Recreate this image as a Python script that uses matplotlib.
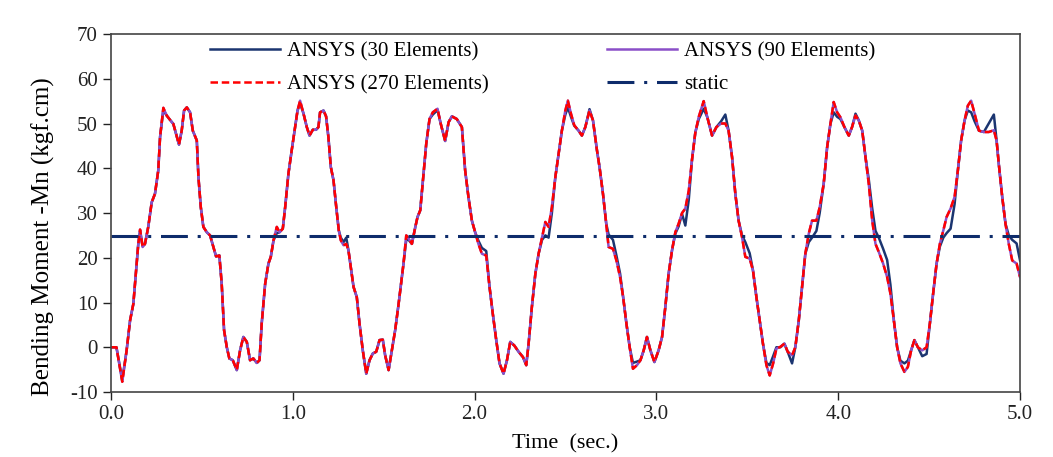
import matplotlib.pyplot as plt

# time (sec.), shared by all three ANSYS curves
time_s = [0.000, 0.030, 0.062, 0.086, 0.105, 0.123, 0.138, 0.150, 0.160, 0.174,
          0.187, 0.205, 0.224, 0.242, 0.260, 0.270, 0.288, 0.306, 0.325, 0.343,
          0.358, 0.374, 0.389, 0.402, 0.417, 0.435, 0.450, 0.472, 0.481, 0.494,
          0.508, 0.527, 0.545, 0.563, 0.578, 0.596, 0.609, 0.622, 0.637, 0.651,
          0.670, 0.692, 0.710, 0.728, 0.747, 0.765, 0.783, 0.802, 0.817, 0.829,
          0.848, 0.866, 0.879, 0.894, 0.912, 0.927, 0.945, 0.958, 0.976, 0.994,
          1.013, 1.026, 1.040, 1.059, 1.077, 1.092, 1.110, 1.128, 1.141, 1.150,
          1.169, 1.183, 1.196, 1.209, 1.224, 1.239, 1.253, 1.264, 1.279, 1.294,
          1.306, 1.319, 1.334, 1.352, 1.367, 1.385, 1.404, 1.422, 1.440, 1.459,
          1.477, 1.495, 1.508, 1.527, 1.545, 1.563, 1.582, 1.609, 1.624, 1.637,
          1.655, 1.674, 1.686, 1.701, 1.716, 1.734, 1.752, 1.770, 1.796, 1.814,
          1.838, 1.857, 1.875, 1.902, 1.930, 1.948, 1.966, 1.985, 2.003, 2.021,
          2.040, 2.064, 2.082, 2.100, 2.119, 2.137, 2.159, 2.178, 2.196, 2.218,
          2.242, 2.266, 2.284, 2.297, 2.315, 2.334, 2.352, 2.371, 2.389, 2.407,
          2.425, 2.444, 2.462, 2.480, 2.499, 2.513, 2.530, 2.548, 2.572, 2.590,
          2.609, 2.632, 2.651, 2.673, 2.687, 2.706, 2.724, 2.737, 2.761, 2.780,
          2.800, 2.817, 2.835, 2.853, 2.871, 2.893, 2.912, 2.930, 2.948, 2.967,
          2.989, 3.012, 3.031, 3.049, 3.067, 3.086, 3.104, 3.122, 3.141, 3.159,
          3.178, 3.196, 3.214, 3.233, 3.260, 3.280, 3.306, 3.330, 3.356, 3.379,
          3.397, 3.416, 3.434, 3.452, 3.471, 3.489, 3.513, 3.531, 3.550, 3.568,
          3.586, 3.605, 3.623, 3.642, 3.660, 3.682, 3.704, 3.722, 3.746, 3.764,
          3.783, 3.801, 3.819, 3.838, 3.856, 3.880, 3.898, 3.920, 3.939, 3.957,
          3.975, 3.994, 4.012, 4.034, 4.058, 4.076, 4.095, 4.113, 4.132, 4.150,
          4.168, 4.187, 4.205, 4.223, 4.247, 4.269, 4.287, 4.306, 4.324, 4.342,
          4.364, 4.383, 4.401, 4.419, 4.438, 4.462, 4.486, 4.504, 4.522, 4.541,
          4.559, 4.578, 4.596, 4.618, 4.640, 4.658, 4.676, 4.695, 4.713, 4.731,
          4.750, 4.774, 4.801, 4.828, 4.856, 4.871, 4.883, 4.902, 4.920, 4.938,
          4.957, 4.981, 5.000]

# bending moment (kgf.cm), 270 elements (red dashed)
m270 = [0.0, 0.0, -7.7, -0.7, 6.0, 9.7, 17.2, 23.0, 26.3, 22.4,
        23.1, 26.9, 32.4, 34.3, 39.5, 47.0, 53.5, 51.8, 50.8, 49.9,
        47.7, 45.3, 48.4, 52.9, 53.6, 52.5, 48.4, 46.2, 38.0, 31.3,
        26.9, 25.7, 25.0, 22.4, 20.3, 20.5, 14.2, 3.8, 0.0, -2.5,
        -2.9, -5.1, -0.7, 2.3, 1.2, -2.9, -2.5, -3.5, -2.9, 5.3,
        14.2, 18.7, 20.2, 23.9, 26.9, 25.7, 26.5, 31.3, 38.8, 44.0,
        49.2, 52.9, 55.1, 52.2, 49.2, 47.3, 48.6, 48.6, 49.2, 52.5,
        52.9, 51.6, 46.9, 40.3, 37.3, 31.3, 26.1, 23.9, 22.8, 23.1,
        21.7, 17.9, 13.5, 11.2, 5.3, -0.7, -5.9, -2.9, -1.4, -1.0,
        1.6, 1.7, -1.8, -5.1, -0.7, 3.8, 9.7, 18.7, 25.0, 24.3,
        23.1, 26.9, 29.1, 30.6, 37.3, 45.5, 51.0, 52.5, 53.3, 49.9,
        46.1, 50.3, 51.6, 51.0, 49.2, 39.5, 33.6, 28.3, 25.7, 23.1,
        20.9, 20.5, 13.5, 7.5, 1.6, -3.6, -5.9, -2.9, 1.2, 0.4,
        -1.0, -2.2, -4.0, 0.8, 9.0, 16.4, 20.9, 24.6, 28.0, 26.9,
        31.3, 38.0, 43.2, 48.4, 52.9, 55.1, 52.2, 49.6, 48.4, 47.3,
        49.2, 52.9, 50.7, 44.0, 40.3, 34.3, 27.6, 22.4, 22.0, 19.4,
        15.7, 11.2, 5.3, 0.0, -4.8, -4.0, -2.9, -0.7, 2.3, -0.7,
        -3.3, -0.7, 2.3, 9.0, 16.4, 21.7, 25.7, 27.6, 30.0, 31.0,
        35.0, 42.0, 48.0, 51.5, 55.0, 51.4, 47.3, 49.2, 50.0, 50.0,
        48.4, 42.5, 34.3, 28.3, 24.6, 20.2, 19.8, 17.2, 11.2, 6.0,
        0.8, -4.0, -6.3, -3.6, -0.3, 0.1, 0.8, -1.0, -1.8, 0.0,
        6.0, 13.5, 20.9, 25.4, 28.3, 28.3, 31.3, 36.5, 44.7, 49.9,
        54.8, 52.5, 51.4, 49.2, 47.3, 49.2, 51.8, 50.7, 48.4, 42.5,
        36.5, 28.3, 23.1, 21.3, 18.7, 15.7, 12.0, 6.0, 0.0, -3.6,
        -5.5, -4.4, -0.7, 1.6, 0.0, -0.7, 0.0, 5.3, 12.0, 18.7,
        23.1, 26.1, 29.1, 31.0, 33.6, 39.5, 46.2, 50.7, 54.0, 55.1,
        52.2, 48.4, 48.1, 48.1, 48.5, 46.2, 41.0, 33.6, 27.6, 23.1,
        19.4, 18.7, 15.7]

# 90 elements (purple) lies under the 270-element line everywhere
m90 = list(m270)

# 30 elements (navy solid)
m30 = [0.0, 0.0, -7.3, -0.7, 6.0, 9.7, 17.2, 23.0, 26.0, 22.6,
       23.1, 26.9, 32.4, 34.3, 39.5, 47.0, 53.0, 51.8, 50.8, 49.9,
       47.7, 45.3, 48.4, 52.9, 53.6, 52.5, 48.4, 46.2, 38.0, 31.3,
       26.9, 25.7, 25.0, 22.4, 20.3, 20.5, 14.2, 3.8, 0.0, -2.5,
       -2.9, -5.1, -0.7, 2.3, 1.2, -2.9, -2.5, -3.5, -2.9, 5.3,
       14.2, 18.7, 20.2, 23.9, 25.5, 25.7, 26.5, 31.3, 38.8, 44.0,
       49.2, 52.9, 54.5, 52.2, 49.2, 47.3, 48.6, 48.6, 49.2, 52.5,
       52.9, 51.6, 46.9, 40.3, 37.3, 31.3, 26.1, 24.5, 23.5, 24.5,
       21.7, 17.9, 13.5, 11.2, 5.3, -0.7, -5.9, -2.9, -1.4, -1.0,
       1.6, 1.7, -1.8, -5.1, -0.7, 3.8, 9.7, 18.7, 24.0, 24.0,
       23.1, 26.9, 29.1, 30.6, 37.3, 45.5, 51.0, 52.0, 53.0, 49.9,
       46.1, 50.3, 51.6, 51.0, 49.2, 39.5, 33.6, 28.3, 25.7, 23.8,
       22.2, 21.5, 13.5, 7.5, 1.6, -3.6, -5.9, -2.9, 1.2, 0.4,
       -1.0, -2.2, -4.0, 0.8, 9.0, 16.4, 20.9, 24.0, 25.0, 24.5,
       30.0, 38.0, 43.2, 48.4, 52.0, 53.6, 51.5, 49.5, 48.4, 47.3,
       49.2, 53.2, 50.7, 44.0, 40.3, 34.3, 27.6, 25.2, 24.0, 20.5,
       16.5, 11.2, 5.3, 0.0, -3.5, -3.2, -2.9, -0.7, 2.3, -0.7,
       -3.3, -0.7, 2.3, 9.0, 16.4, 21.7, 25.4, 27.0, 29.8, 27.2,
       33.0, 42.0, 48.0, 51.0, 53.3, 51.4, 47.3, 49.2, 50.5, 52.0,
       48.4, 42.5, 34.3, 28.3, 25.0, 23.5, 21.0, 17.2, 11.2, 6.0,
       0.8, -3.5, -4.0, -2.0, 0.0, 0.0, 0.8, -1.0, -3.6, 0.0,
       6.0, 13.5, 20.9, 23.5, 24.5, 26.0, 30.0, 36.5, 44.7, 49.9,
       52.5, 51.5, 51.0, 49.2, 47.3, 49.2, 52.2, 50.7, 48.4, 42.5,
       37.5, 31.0, 26.0, 24.5, 22.0, 19.5, 14.0, 6.0, 0.0, -3.0,
       -3.6, -3.0, -0.7, 1.6, 0.0, -2.0, -1.5, 5.3, 12.0, 18.7,
       22.5, 24.5, 25.5, 26.5, 32.0, 39.5, 46.2, 50.7, 52.9, 52.5,
       50.5, 48.4, 48.1, 50.0, 52.0, 46.2, 41.0, 33.6, 27.6, 25.0,
       24.0, 23.2, 19.4]

static_val = 24.8

plt.rcParams['font.family'] = ['Liberation Serif', 'DejaVu Serif']
plt.rcParams['axes.unicode_minus'] = False

fig = plt.figure(figsize=(10.53, 4.57), dpi=100)
ax = fig.add_axes([0.1054, 0.1422, 0.8633, 0.7834])

l30, = ax.plot(time_s, m30, color='#1b3570', linewidth=1.8, label='ANSYS (30 Elements)')
l90, = ax.plot(time_s, m90, color='#8a4fc8', linewidth=1.8, label='ANSYS (90 Elements)')
l270, = ax.plot(time_s, m270, color='#ff0000', linewidth=1.8, linestyle=(0, (3, 1.5)),
                label='ANSYS (270 Elements)')
lst = ax.axhline(static_val, color='#0e2c6b', linewidth=2.2,
                 linestyle=(0, (8.8, 3.2, 1, 3.2)), label='static')

ax.set_xlim(0, 5)
ax.set_ylim(-10, 70)
ax.set_xticks([0, 1, 2, 3, 4, 5])
ax.set_xticklabels(['0.0', '1.0', '2.0', '3.0', '4.0', '5.0'])
ax.set_yticks(range(-10, 71, 10))
ax.tick_params(direction='out', length=6, width=1, labelsize=15, colors='#222222')
for s in ax.spines.values():
    s.set_color('#444444')
    s.set_linewidth(1.2)

ax.set_xlabel('Time  (sec.)', fontsize=16, labelpad=7)
ax.set_ylabel('Bending Moment -Mn (kgf.cm)', fontsize=18)
ax.yaxis.set_label_coords(-0.0615, 0.433)

ax.legend(handles=[l30, l270, l90, lst], ncol=2, loc='upper left',
          bbox_to_anchor=(0.088, 1.03), frameon=False, fontsize=15,
          handlelength=3.35, handletextpad=0.35, columnspacing=5.7,
          labelspacing=0.62)

fig.savefig('out.png', dpi=100)
